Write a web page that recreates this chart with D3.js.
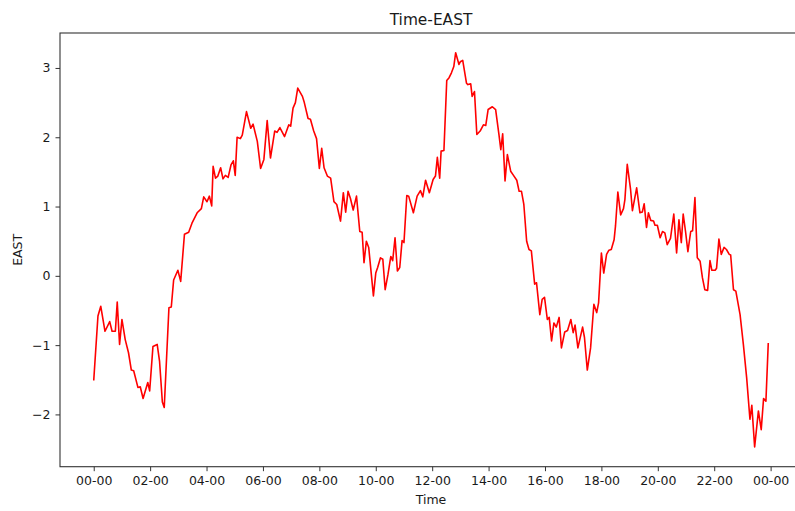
<!DOCTYPE html>
<html>
<head>
<meta charset="utf-8">
<script src="https://cdn.jsdelivr.net/npm/d3@7"></script>
<style>
  html, body { margin: 0; padding: 0; background: #fff; }
  svg { display: block; font-family: "DejaVu Sans", sans-serif; }
</style>
</head>
<body>
<svg id="chart" width="795" height="511"></svg>
<script>
// Minutes after midnight for each sample
const minutes = [
  0, 9, 15, 24, 34, 39, 46, 50, 55, 60, 67, 74, 80, 85, 94, 99, 105, 115, 119, 126,
  135, 140, 146, 150, 160, 165, 170, 179, 185, 193, 202, 209, 220, 229, 234, 241, 246, 251, 254, 259,
  264, 270, 275, 280, 286, 292, 297, 301, 305, 312, 316, 325, 334, 339, 348, 355, 362, 369, 376, 385,
  390, 396, 406, 415, 419, 424, 429, 434, 444, 448, 456, 461, 468, 474, 480, 485, 490, 497, 504, 511,
  517, 525, 531, 536, 541, 546, 552, 559, 566, 571, 575, 580, 585, 595, 600, 604, 610, 615, 620, 626,
  632, 636, 641, 646, 651, 656, 660, 666, 670, 680, 688, 695, 700, 706, 714, 722, 727, 731, 736, 739,
  745, 751, 756, 761, 766, 770, 777, 780, 785, 793, 796, 802, 805, 810, 815, 822, 829, 834, 839, 848,
  855, 862, 866, 870, 875, 880, 887, 893, 900, 905, 910, 915, 921, 926, 931, 938, 942, 949, 954, 959,
  965, 969, 974, 979, 984, 990, 995, 1002, 1008, 1015, 1020, 1024, 1030, 1040, 1044, 1050, 1057, 1064, 1070, 1074,
  1080, 1085, 1091, 1096, 1101, 1107, 1110, 1115, 1121, 1127, 1130, 1135, 1142, 1146, 1155, 1162, 1167, 1171, 1176, 1180,
  1185, 1191, 1194, 1199, 1205, 1210, 1215, 1220, 1227, 1234, 1240, 1245, 1250, 1254, 1259, 1264, 1270, 1274, 1279, 1284,
  1290, 1295, 1300, 1306, 1311, 1315, 1322, 1325, 1330, 1335, 1341, 1346, 1352, 1355, 1361, 1366, 1375, 1382, 1389, 1396,
  1400, 1406, 1414, 1420, 1425, 1430, 1435
];

// EAST value at each sample
const east = [
  -1.51, -0.58, -0.44, -0.80, -0.66, -0.80, -0.80, -0.38, -0.99, -0.63, -0.92, -1.11, -1.36, -1.37, -1.61, -1.60, -1.77, -1.54, -1.66, -1.02,
  -0.99, -1.23, -1.82, -1.90, -0.46, -0.45, -0.06, 0.08, -0.08, 0.60, 0.63, 0.76, 0.91, 0.97, 1.14, 1.07, 1.15, 1.01, 1.58, 1.41,
  1.44, 1.56, 1.40, 1.45, 1.42, 1.60, 1.66, 1.45, 2.00, 1.98, 2.03, 2.37, 2.13, 2.19, 1.94, 1.55, 1.68, 2.24, 1.70, 2.09,
  2.07, 2.14, 2.01, 2.18, 2.16, 2.42, 2.50, 2.71, 2.59, 2.50, 2.27, 2.26, 2.09, 1.98, 1.55, 1.84, 1.56, 1.44, 1.41, 1.07,
  1.03, 0.79, 1.20, 0.92, 1.22, 1.12, 0.95, 1.15, 0.64, 0.63, 0.19, 0.50, 0.41, -0.29, 0.04, 0.12, 0.26, 0.24, -0.20, 0.02,
  0.28, 0.22, 0.55, 0.07, 0.12, 0.51, 0.48, 1.16, 1.15, 0.91, 1.15, 1.23, 1.14, 1.38, 1.20, 1.39, 1.44, 1.71, 1.41, 1.80,
  1.81, 2.82, 2.86, 2.93, 3.02, 3.22, 3.05, 3.09, 3.11, 2.78, 2.76, 2.77, 2.59, 2.66, 2.04, 2.09, 2.18, 2.17, 2.40, 2.44,
  2.40, 2.04, 1.82, 2.05, 1.37, 1.75, 1.51, 1.45, 1.38, 1.22, 1.22, 1.03, 0.50, 0.38, 0.36, -0.12, -0.10, -0.56, -0.34, -0.31,
  -0.63, -0.60, -0.94, -0.68, -0.74, -0.60, -1.04, -0.81, -0.79, -0.63, -0.82, -0.71, -1.04, -0.74, -0.89, -1.36, -1.04, -0.41, -0.53, -0.39,
  0.33, 0.04, 0.31, 0.37, 0.38, 0.52, 0.72, 1.21, 0.88, 0.97, 1.10, 1.61, 1.25, 0.94, 1.27, 0.91, 0.92, 1.04, 0.70, 0.91,
  0.80, 0.79, 0.73, 0.73, 0.55, 0.64, 0.62, 0.45, 0.54, 0.89, 0.33, 0.81, 0.48, 0.89, 0.64, 0.35, 0.64, 0.65, 1.13, 0.26,
  0.21, -0.03, -0.20, -0.21, 0.22, 0.08, 0.08, 0.11, 0.53, 0.31, 0.41, 0.38, 0.31, 0.30, -0.20, -0.22, -0.56, -0.99, -1.47, -2.07,
  -1.87, -2.47, -1.95, -2.22, -1.77, -1.81, -0.97
];

// Axis ticks
const xTickMinutes = [0, 120, 240, 360, 480, 600, 720, 840, 960, 1080, 1200, 1320, 1440];
const xTickLabels = ["00-00", "02-00", "04-00", "06-00", "08-00", "10-00", "12-00",
                     "14-00", "16-00", "18-00", "20-00", "22-00", "00-00"];
const yTicks = [-2, -1, 0, 1, 2, 3];

const titleText = "Time-EAST";
const xLabel = "Time";
const yLabel = "EAST";

const data = minutes.map((m, i) => ({ m, v: east[i] }));

const svg = d3.select("#chart");
const plot = { left: 60, right: 802, top: 33, bottom: 466.7 };

// Axis limits padded by 5% of the data span on each side
const xMin = d3.min(minutes), xMax = d3.max(minutes);
const xPad = (xMax - xMin) * 0.05;
const yMin = d3.min(east), yMax = d3.max(east);
const yPad = (yMax - yMin) * 0.05;

const x = d3.scaleLinear()
  .domain([xMin - xPad, xMax + xPad])
  .range([plot.left, plot.right]);
const y = d3.scaleLinear()
  .domain([yMin - yPad, yMax + yPad])
  .range([plot.bottom, plot.top]);

const textColor = "#1a1a1a";
const fontSize = 12.5;

// Series line
svg.append("path")
  .datum(data)
  .attr("fill", "none")
  .attr("stroke", "#ff0000")
  .attr("stroke-width", 1.6)
  .attr("stroke-linejoin", "round")
  .attr("d", d3.line().x(d => x(d.m)).y(d => y(d.v)));

// X axis
const xAxis = d3.axisBottom(x)
  .tickValues(xTickMinutes)
  .tickFormat((d, i) => xTickLabels[i])
  .tickSize(4.5)
  .tickPadding(5)
  .tickSizeOuter(0);
const gx = svg.append("g")
  .attr("transform", `translate(0,${plot.bottom})`)
  .call(xAxis);
gx.select(".domain").remove();

// Y axis
const yAxis = d3.axisLeft(y)
  .tickValues(yTicks)
  .tickFormat(d => d < 0 ? "\u2212" + Math.abs(d) : String(d))
  .tickSize(4.5)
  .tickPadding(5)
  .tickSizeOuter(0);
const gy = svg.append("g")
  .attr("transform", `translate(${plot.left},0)`)
  .call(yAxis);
gy.select(".domain").remove();

[gx, gy].forEach(g => {
  g.selectAll("line").attr("stroke", "#333").attr("stroke-width", 1);
  g.selectAll("text")
    .attr("fill", textColor)
    .style("font-size", fontSize + "px")
    .style("font-family", "DejaVu Sans, sans-serif");
});

// Frame around the plotting area
svg.append("rect")
  .attr("x", plot.left)
  .attr("y", plot.top)
  .attr("width", plot.right - plot.left)
  .attr("height", plot.bottom - plot.top)
  .attr("fill", "none")
  .attr("stroke", "#333")
  .attr("stroke-width", 1.1);

// Title and axis labels
svg.append("text")
  .attr("x", (plot.left + plot.right) / 2)
  .attr("y", 25)
  .attr("text-anchor", "middle")
  .attr("fill", textColor)
  .style("font-size", "15.4px")
  .text(titleText);

svg.append("text")
  .attr("x", (plot.left + plot.right) / 2)
  .attr("y", 504)
  .attr("text-anchor", "middle")
  .attr("fill", textColor)
  .style("font-size", fontSize + "px")
  .text(xLabel);

svg.append("text")
  .attr("transform", `translate(22,${(plot.top + plot.bottom) / 2}) rotate(-90)`)
  .attr("text-anchor", "middle")
  .attr("fill", textColor)
  .style("font-size", fontSize + "px")
  .text(yLabel);
</script>
</body>
</html>
